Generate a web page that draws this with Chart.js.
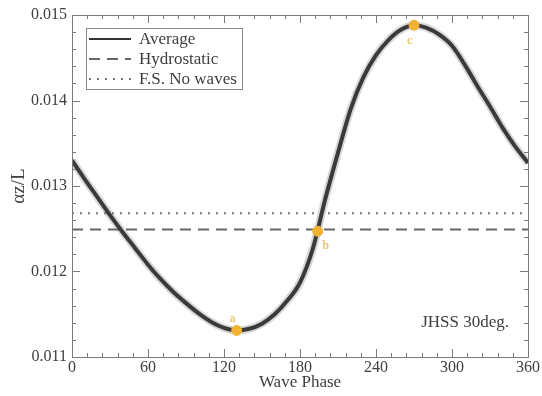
<!DOCTYPE html>
<html>
<head>
<meta charset="utf-8">
<script src="https://cdn.jsdelivr.net/npm/chart.js@4"></script>
<style>
html,body{margin:0;padding:0;background:#fff;}
#wrap{width:542px;height:396px;position:relative;}
</style>
</head>
<body>
<div id="wrap"><canvas id="phaseChart"></canvas></div>
<script>
/* =========================
   DATA
========================= */

const phases = [
0,10,20,30,40,50,60,70,80,90,
100,110,120,130,140,150,160,170,180,190,
200,210,220,230,240,250,260,270,280,290,
300,310,320,330,340,350,360
];

const averageValues = [
0.01330,0.01308,0.01287,0.01266,0.01246,0.01227,0.01208,0.01191,0.01176,0.01163,
0.01151,0.01141,0.01134,0.01131,0.01133,0.01139,0.01150,0.01166,0.01187,0.01226,
0.01285,0.01339,0.01390,0.01427,0.01453,0.01471,0.01483,0.01488,0.01485,0.01477,
0.01464,0.01442,0.01417,0.01393,0.01368,0.01346,0.01327
];

const hydrostaticValue = 0.01249;
const noWavesValue = 0.01268;

const markerNames = ["a","b","c"];
const markerPhases = [130,194,270];
const markerValues = [0.01131,0.01247,0.01488];

const xTicks = [0,60,120,180,240,300,360];
const yTicks = [0.011,0.012,0.013,0.014,0.015];

const legendNames = ["Average","Hydrostatic","F.S. No waves"];

/* =========================
   STYLE
========================= */

const serif = "'Liberation Serif', 'DejaVu Serif', serif";
const textColor = "#3e3e3e";
const frameColor = "#7a7a7a";

/* frame, inner ticks, legend box, notes */
const decorPlugin = {
id:"decor",
afterDraw(chart){
const ctx = chart.ctx;
const a = chart.chartArea;
const xs = chart.scales.x;
const ys = chart.scales.y;

ctx.save();
ctx.strokeStyle = frameColor;
ctx.lineWidth = 1;
ctx.strokeRect(a.left+0.5,a.top+0.5,a.right-a.left,a.bottom-a.top);

// x ticks, minor every 12 deg
ctx.beginPath();
for(let v=0; v<=360; v+=12){
const px = Math.round(xs.getPixelForValue(v))+0.5;
const len = xTicks.includes(v) ? 8 : 4;
ctx.moveTo(px,a.bottom); ctx.lineTo(px,a.bottom-len);
ctx.moveTo(px,a.top); ctx.lineTo(px,a.top+len);
}
// y ticks, minor every 0.0002
for(let i=0; i<=20; i++){
const v = 0.011 + i*0.0002;
const py = Math.round(ys.getPixelForValue(v))+0.5;
const len = (i%5===0) ? 8 : 4;
ctx.moveTo(a.left,py); ctx.lineTo(a.left+len,py);
ctx.moveTo(a.right,py); ctx.lineTo(a.right-len,py);
}
ctx.stroke();

// legend
const lx = a.left+14, ly = a.top+13;
ctx.strokeStyle = "#888";
ctx.strokeRect(lx+0.5,ly+0.5,156,61);
ctx.font = "17px "+serif;
ctx.textBaseline = "middle";
ctx.fillStyle = textColor;
const sets = chart.data.datasets;
legendNames.forEach((name,i)=>{
const ds = sets.find(d=>d.label===name);
const y = ly+11+i*20;
ctx.beginPath();
ctx.setLineDash(ds.borderDash || []);
ctx.strokeStyle = ds.legendColor || ds.borderColor;
ctx.lineWidth = 2;
ctx.moveTo(lx+3,y); ctx.lineTo(lx+45,y);
ctx.stroke();
ctx.setLineDash([]);
ctx.fillText(name,lx+53,y+1);
});

// marker labels
const meta = chart.getDatasetMeta(sets.findIndex(d=>d.label==="markers"));
const offs = [[-4,-12],[8,14],[-4,15]];
ctx.font = "13px "+serif;
ctx.fillStyle = "#e3b13c";
ctx.textAlign = "center";
meta.data.forEach((pt,i)=>{
ctx.fillText(markerNames[i],pt.x+offs[i][0],pt.y+offs[i][1]);
});

// case note
ctx.font = "17px "+serif;
ctx.fillStyle = textColor;
ctx.textAlign = "right";
ctx.fillText("JHSS 30deg.",a.right-19,a.bottom-34);
ctx.restore();
}
};

/* =========================
   CHART
========================= */

const ctx = document.getElementById("phaseChart").getContext("2d");

new Chart(ctx,{

type:"line",

data:{
datasets:[

{
label:"spread",
data:phases.map((p,i)=>({x:p,y:averageValues[i]})),
borderColor:"rgba(110,118,110,.28)",
borderWidth:8,
pointRadius:0,
cubicInterpolationMode:"monotone",
order:3
},

{
label:"Average",
data:phases.map((p,i)=>({x:p,y:averageValues[i]})),
borderColor:"#3a3a3a",
legendColor:"#333",
borderWidth:4,
pointRadius:0,
cubicInterpolationMode:"monotone",
order:2
},

{
label:"Hydrostatic",
data:[{x:0,y:hydrostaticValue},{x:360,y:hydrostaticValue}],
borderColor:"#666",
borderWidth:2,
borderDash:[11,7],
pointRadius:0,
order:4
},

{
label:"F.S. No waves",
data:[{x:0,y:noWavesValue},{x:360,y:noWavesValue}],
borderColor:"#777",
borderWidth:2,
borderDash:[2,6],
pointRadius:0,
order:4
},

{
label:"markers",
data:markerPhases.map((p,i)=>({x:p,y:markerValues[i]})),
showLine:false,
pointRadius:5,
pointBackgroundColor:"#f2b233",
pointBorderColor:"#f2b233",
order:1
}

]
},

options:{
responsive:true,
maintainAspectRatio:false,
animation:false,
layout:{padding:{left:8,right:14,top:15,bottom:3}},
plugins:{
legend:{display:false},
tooltip:{enabled:false}
},
scales:{

x:{
type:"linear",
min:0,
max:360,
afterBuildTicks:s=>{s.ticks = xTicks.map(v=>({value:v}));},
afterFit:s=>{s.height = 36;},
ticks:{
color:textColor,
font:{family:serif,size:16},
padding:1,
maxRotation:0
},
grid:{display:false,drawTicks:false},
border:{display:false},
title:{
display:true,
text:"Wave Phase",
color:textColor,
font:{family:serif,size:17},
padding:{top:0,bottom:0}
}
},

y:{
min:0.011,
max:0.015,
afterBuildTicks:s=>{s.ticks = yTicks.map(v=>({value:v}));},
afterFit:s=>{s.width = 64;},
ticks:{
color:textColor,
font:{family:serif,size:16},
padding:5,
callback:v=>v.toFixed(3)
},
grid:{display:false,drawTicks:false},
border:{display:false},
title:{
display:true,
text:"αz/L",
color:textColor,
font:{family:serif,size:19},
padding:{top:0,bottom:0}
}
}

}
},

plugins:[decorPlugin]

});
</script>
</body>
</html>
